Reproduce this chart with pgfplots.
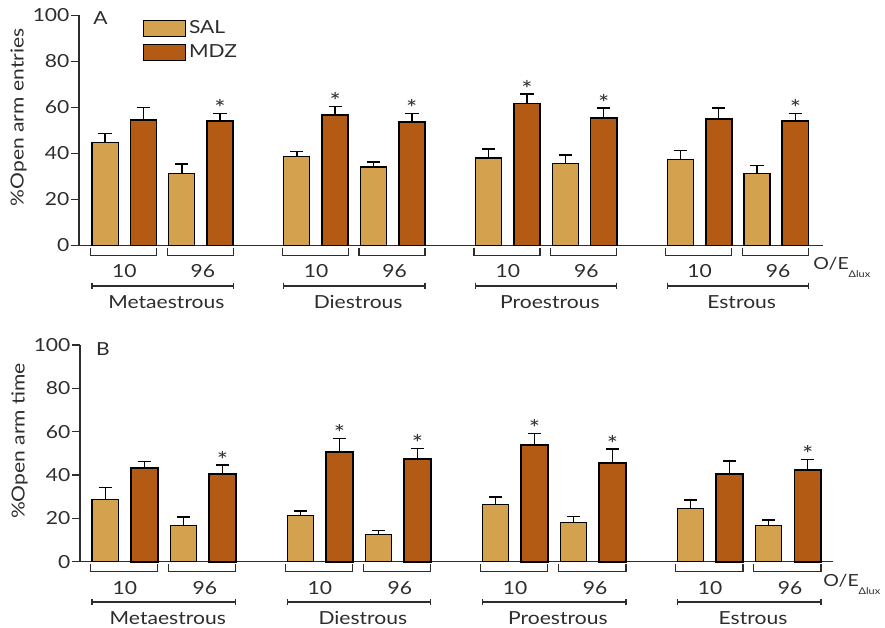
\documentclass[border=0pt]{standalone}
\usepackage{fontspec}
\setmainfont{Lato}[FakeStretch=1.17]
\usepackage{pgfplots}
\usepackage{pgfplotstable}
\pgfplotsset{compat=1.18}
\definecolor{sal}{RGB}{212,162,78}
\definecolor{mdz}{RGB}{179,90,20}
\definecolor{txt}{RGB}{45,45,45}
\newcommand\fs{\fontsize{13.5}{16}\selectfont}
\newcommand\oelux{{\fontsize{12.5}{15}\selectfont O/E}\raisebox{-5.5pt}{\fontsize{7}{8}\selectfont Δlux}}

% panel A data: x, value, error
\pgfplotstableread{
x y e
0 44.9 3.8
2 31.4 4.0
5 38.6 2.3
7 34.1 2.1
10 38.0 3.9
12 35.5 3.8
15 37.4 3.8
17 31.4 3.4
}\salA
\pgfplotstableread{
x y e
1 54.6 5.5
3 54.1 3.3
6 56.7 3.7
8 53.6 3.8
11 61.7 4.1
13 55.4 4.3
16 54.9 4.8
18 54.1 3.3
}\mdzA
\pgfplotstableread{
x y e
0 28.6 5.6
2 16.6 4.0
5 21.2 2.3
7 12.5 1.8
10 26.3 3.5
12 18.0 2.9
15 24.5 4.0
17 16.6 2.6
}\salB
\pgfplotstableread{
x y e
1 43.4 2.8
3 40.6 4.0
6 50.8 6.1
8 47.5 4.7
11 53.8 5.4
13 45.7 6.3
16 40.6 6.0
18 42.5 4.7
}\mdzB

\pgfplotsset{
  panel/.style={
    scale only axis, clip=false, anchor=south west,
    axis lines*=left,
    axis line style={txt, line width=1pt},
    xmin=-0.68, xmax=18.72, ymin=0, ymax=100,
    xtick=\empty, ytick={0,20,...,100},
    tick align=outside, major tick length=6pt,
    tick style={txt, line width=1pt},
    /pgf/number format/assume math mode=true,
    tick label style={font=\fs, text=txt},
    yticklabel style={inner xsep=1pt},
    label style={font=\fs, text=txt},
    ylabel style={at={(ticklabel cs:0.557)}},
  },
  boxlegend/.style={legend image code/.code={\draw[##1,/tikz/.cd,line width=0.9pt] (0pt,-6pt) rectangle (32pt,6pt);}},
  errs/.style={
    error bars/y dir=plus, error bars/y explicit,
    error bars/error bar style={black, line width=1.1pt},
    error bars/error mark options={black, line width=1.1pt, mark size=5pt, rotate=90}},
  salbar/.style={ybar, bar width=0.68, bar shift=0, fill=sal, draw=black, line width=0.9pt, boxlegend, errs},
  mdzbar/.style={ybar, bar width=0.68, bar shift=0, fill=mdz, draw=black, line width=1.3pt, boxlegend, errs},
  stars/.style={draw=none, mark=none, forget plot, nodes near coords={*},
    every node near coord/.append style={anchor=base, yshift=-2.5pt, font=\fontsize{17}{20}\selectfont, text=txt, inner sep=0pt}},
}

\newcommand\grp[2]{%
  \draw[txt, line width=1pt] ([yshift=-2pt]axis cs:{#1-0.38},0) -- ([yshift=-7.5pt]axis cs:{#1-0.38},0) -- ([yshift=-7.5pt]axis cs:{#1+1.34},0) -- ([yshift=-2pt]axis cs:{#1+1.34},0);
  \draw[txt, line width=1pt] ([yshift=-2pt]axis cs:{#1+1.62},0) -- ([yshift=-7.5pt]axis cs:{#1+1.62},0) -- ([yshift=-7.5pt]axis cs:{#1+3.34},0) -- ([yshift=-2pt]axis cs:{#1+3.34},0);
  \node[font=\fs, text=txt] at ([yshift=-19.5pt]axis cs:{#1+0.5},0) {10};
  \node[font=\fs, text=txt] at ([yshift=-19.5pt]axis cs:{#1+2.55},0) {96};
  \draw[txt, line width=1pt] ([yshift=-30.3pt]axis cs:{#1-0.34},0) -- ([yshift=-30.3pt]axis cs:{#1+3.34},0);
  \draw[txt, line width=1pt] ([yshift=-27.8pt]axis cs:{#1-0.34},0) -- ([yshift=-32.8pt]axis cs:{#1-0.34},0);
  \draw[txt, line width=1pt] ([yshift=-27.8pt]axis cs:{#1+3.34},0) -- ([yshift=-32.8pt]axis cs:{#1+3.34},0);
  \node[font=\fs, text=txt] at ([yshift=-42.5pt]axis cs:{#1+1.6},0) {#2};
}
\newcommand\groups{%
  \grp{0}{Metaestrous}\grp{5}{Diestrous}\grp{10}{Proestrous}\grp{15}{Estrous}}

\begin{document}
\begin{tikzpicture}
\useasboundingbox (0,0) rectangle (663.75pt,-471pt);
% Panel A
\begin{axis}[panel, at={(59.25pt,-184.1pt)}, width=558pt, height=172.5pt,
  ylabel={\%Open arm entries},
  legend style={draw=none, fill=none, at={(rel axis cs:0.085,0.99)}, anchor=north west,
    font=\fs, text=txt, inner sep=0pt, row sep=3pt, cells={anchor=west}},
  legend cell align=left]
\addplot[salbar] table[x=x, y=y, y error=e] {\salA};
\addlegendentry{SAL}
\addplot[mdzbar] table[x=x, y=y, y error=e] {\mdzA};
\addlegendentry{MDZ}
\addplot[stars] coordinates {(3,57.4) (6,60.4) (8,57.4) (11,65.8) (13,59.7) (18,57.4)};
\node[anchor=base west, inner sep=0pt, font=\fs, text=txt] at (rel axis cs:0.019,0.961) {A};
\node[anchor=west, inner sep=0pt, text=txt] at ([xshift=-7.5pt, yshift=-16.5pt]rel axis cs:1,0) {\oelux};
\groups
\end{axis}
% Panel B
\begin{axis}[panel, at={(60pt,-421.3pt)}, width=564.75pt, height=162.5pt,
  xmin=-0.65, xmax=18.65,
  ylabel={\%Open arm time}]
\addplot[forget plot, salbar] table[x=x, y=y, y error=e] {\salB};
\addplot[forget plot, mdzbar] table[x=x, y=y, y error=e] {\mdzB};
\addplot[stars] coordinates {(3,44.6) (6,56.9) (8,52.2) (11,59.2) (13,52.0) (18,47.2)};
\node[anchor=base west, inner sep=0pt, font=\fs, text=txt] at (rel axis cs:0.021,0.954) {B};
\node[anchor=west, inner sep=0pt, text=txt] at ([xshift=-7.5pt, yshift=-17pt]rel axis cs:1,0) {\oelux};
\groups
\end{axis}
\end{tikzpicture}
\end{document}
